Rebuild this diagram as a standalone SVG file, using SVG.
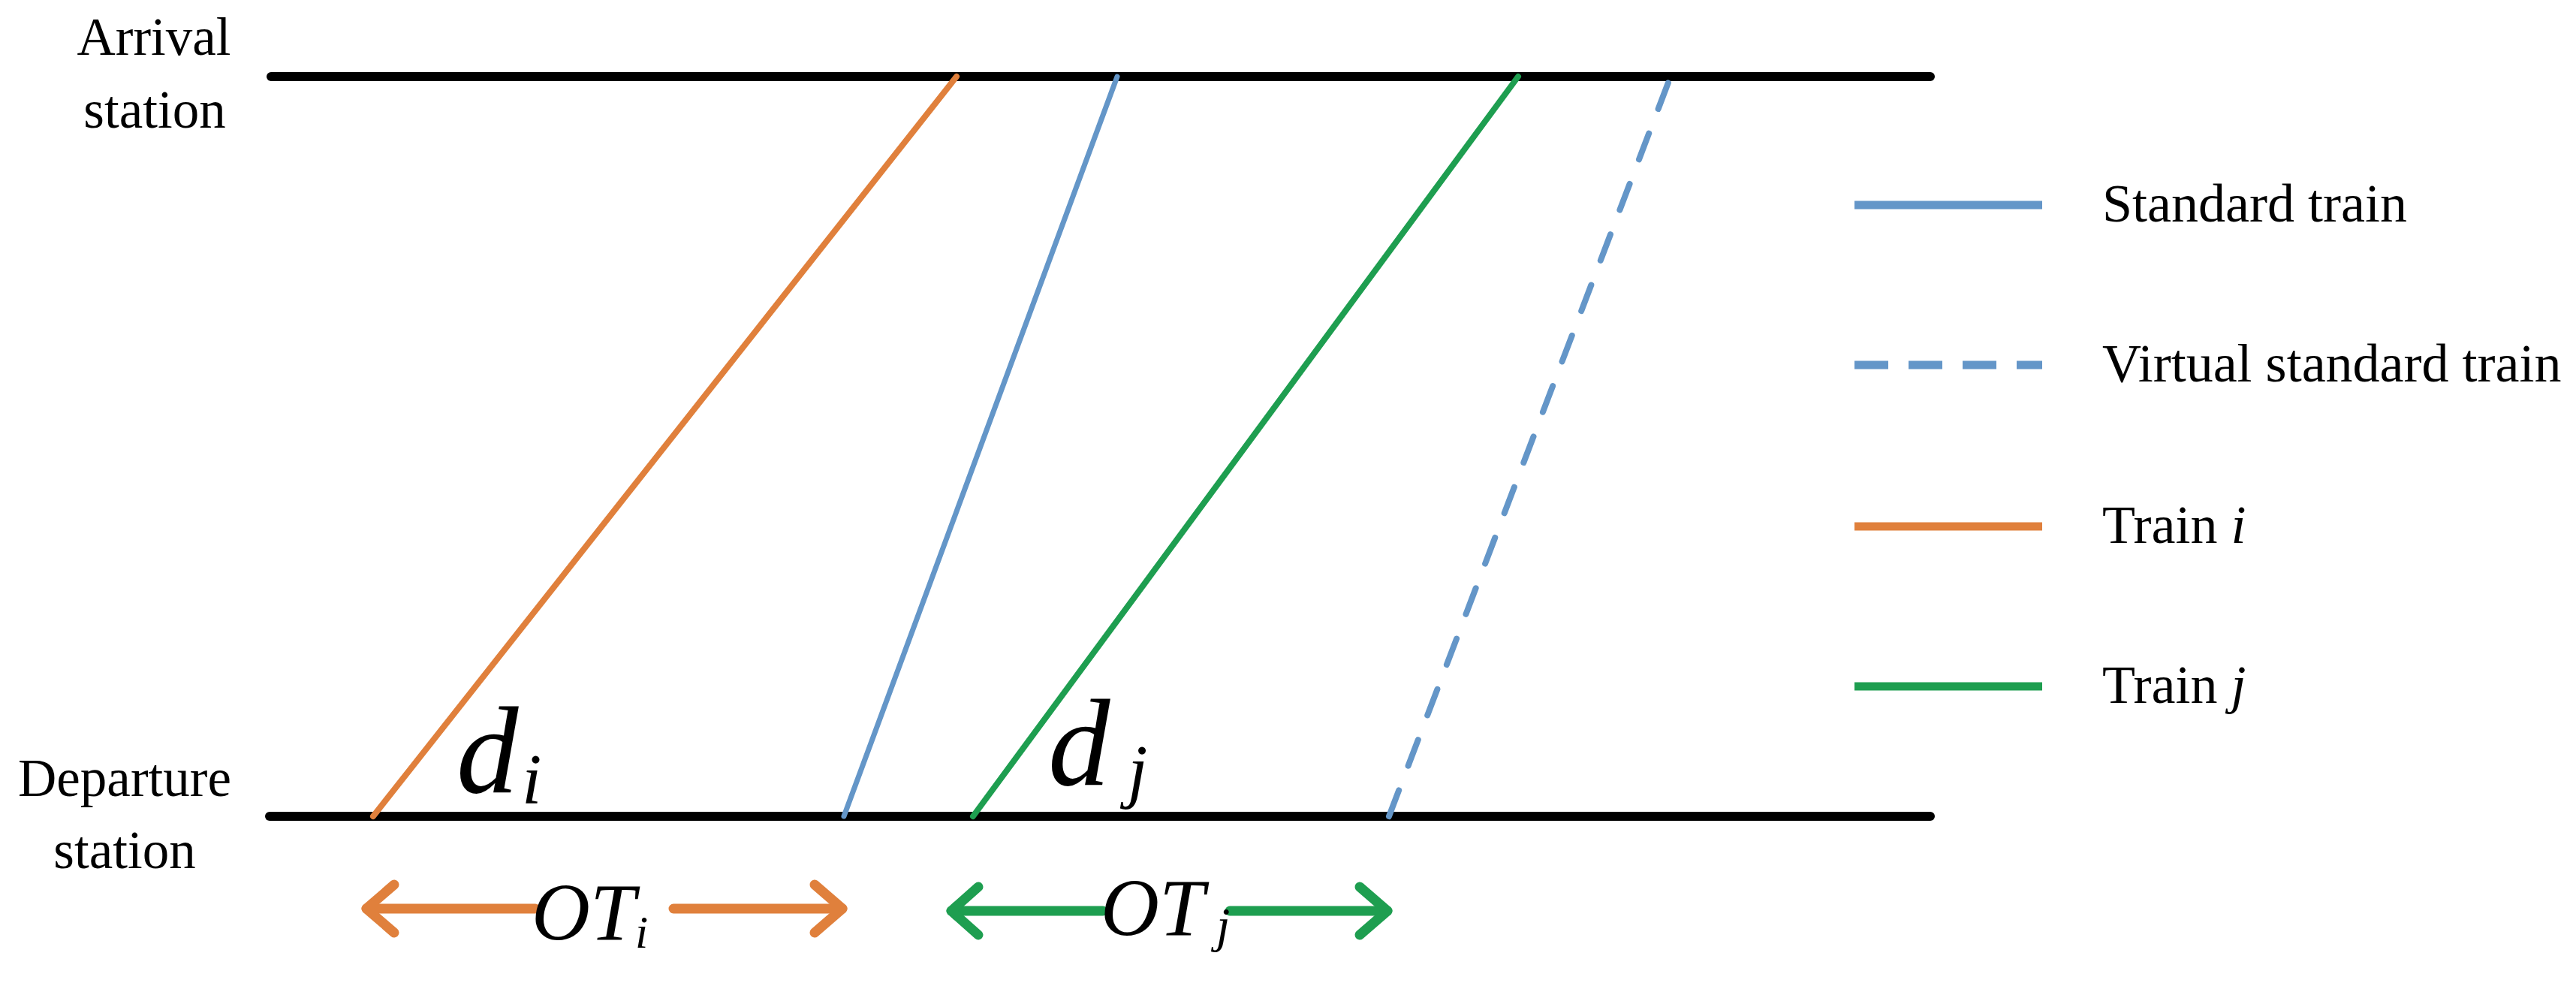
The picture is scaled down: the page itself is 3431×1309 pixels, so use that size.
<svg xmlns="http://www.w3.org/2000/svg" width="3431" height="1309" viewBox="0 0 3431 1309">
<style>
.lbl{font-family:"Liberation Serif","Times New Roman",serif;font-size:71px;fill:#000;text-anchor:middle}
.leg{font-family:"Liberation Serif","Times New Roman",serif;font-size:72px;fill:#000}
.math{font-family:"Liberation Serif","Times New Roman",serif;font-style:italic;fill:#000}
.axis{stroke:#000;stroke-width:12;stroke-linecap:round;fill:none}
.tr{fill:none;stroke-linecap:round}
.orange{stroke:#E0803C}
.blue{stroke:#6496C8}
.green{stroke:#1E9E50}
.dash{stroke-dasharray:37 35}
.arr{fill:none;stroke-width:13;stroke-linecap:round;stroke-linejoin:round}
</style>
<rect width="3431" height="1309" fill="#fff"/>
<g id="arrival-station">
<line class="axis" x1="361" y1="102" x2="2571" y2="102"/>
<text class="lbl" x="205" y="73">Arrival</text>
<text class="lbl" x="206" y="170">station</text>
</g>
<g id="departure-station">
<line class="axis" x1="359" y1="1087" x2="2571" y2="1087"/>
<text class="lbl" x="166" y="1060">Departure</text>
<text class="lbl" x="166" y="1156">station</text>
</g>
<g id="train-lines">
<line id="train-i" class="tr orange" stroke-width="8" x1="497" y1="1087" x2="1274" y2="102"/>
<line id="standard-train" class="tr blue" stroke-width="7" x1="1124" y1="1087" x2="1488" y2="102"/>
<line id="train-j" class="tr green" stroke-width="8" x1="1296" y1="1087" x2="2022" y2="102"/>
<line id="virtual-standard-train" class="tr blue dash" stroke-width="8" x1="1850" y1="1087" x2="2225" y2="102"/>
</g>
<g id="label-di">
<text class="math" x="608" y="1055" font-size="165">d</text>
<text class="math" x="695" y="1070" font-size="95">i</text>
</g>
<g id="label-dj">
<text class="math" x="1396" y="1045" font-size="165">d</text>
<text class="math" x="1502" y="1058" font-size="95">j</text>
</g>
<g id="ot-i">
<line class="arr orange" x1="488" y1="1210" x2="713" y2="1210"/>
<polyline class="arr orange" points="525,1178 488,1210 525,1242"/>
<line class="arr orange" x1="897" y1="1210" x2="1122" y2="1210"/>
<polyline class="arr orange" points="1085,1178 1122,1210 1085,1242"/>
<text class="math" x="708" y="1251" font-size="108">OT</text>
<text class="math" x="846" y="1262" font-size="62">i</text>
</g>
<g id="ot-j">
<line class="arr green" x1="1267" y1="1213" x2="1469" y2="1213"/>
<polyline class="arr green" points="1303,1181 1267,1213 1303,1245"/>
<line class="arr green" x1="1638" y1="1213" x2="1848" y2="1213"/>
<polyline class="arr green" points="1811,1181 1848,1213 1811,1245"/>
<text class="math" x="1466" y="1245" font-size="108">OT</text>
<text class="math" x="1620" y="1254" font-size="66">j</text>
</g>
<g id="legend">
<g id="legend-standard">
<line class="blue" stroke-width="11" x1="2470" y1="273" x2="2720" y2="273"/>
<text class="leg" x="2800" y="295">Standard train</text>
</g>
<g id="legend-virtual">
<line class="blue" stroke-width="11" stroke-dasharray="45 27" x1="2470" y1="486" x2="2720" y2="486"/>
<text class="leg" x="2800" y="508">Virtual standard train</text>
</g>
<g id="legend-train-i">
<line class="orange" stroke-width="11" x1="2470" y1="701" x2="2720" y2="701"/>
<text class="leg" x="2800" y="723">Train <tspan font-style="italic">i</tspan></text>
</g>
<g id="legend-train-j">
<line class="green" stroke-width="11" x1="2470" y1="914" x2="2720" y2="914"/>
<text class="leg" x="2800" y="936">Train <tspan font-style="italic">j</tspan></text>
</g>
</g>
</svg>
